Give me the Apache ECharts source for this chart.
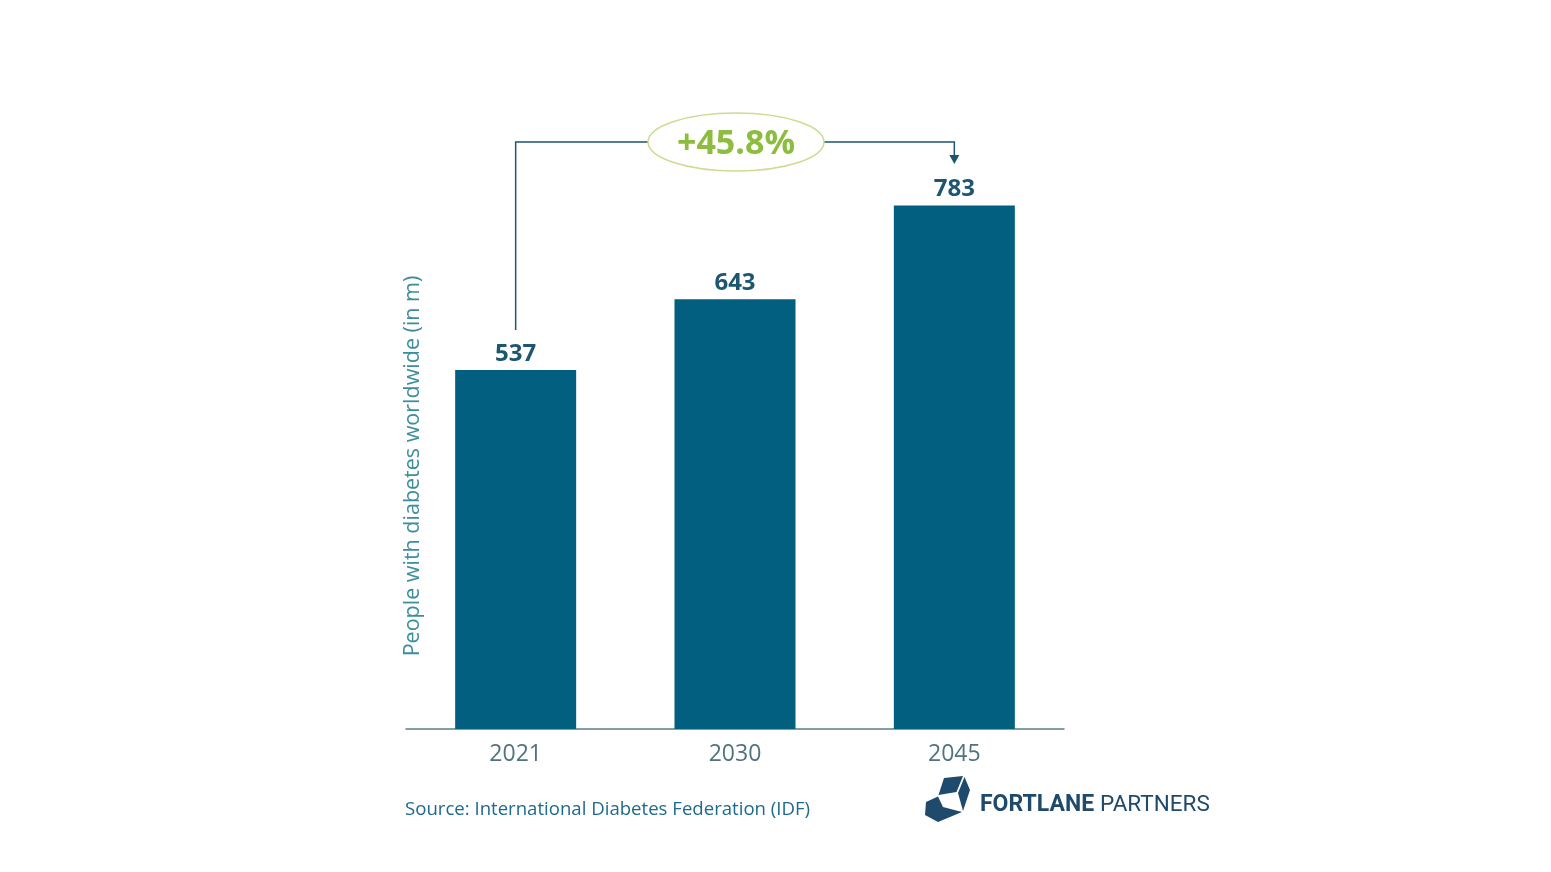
<!DOCTYPE html>
<html>
<head>
<meta charset="utf-8">
<script src="https://cdn.jsdelivr.net/npm/echarts@6/dist/echarts.min.js"></script>
<style>
  html, body { margin: 0; padding: 0; background: #fff; }
  #main { width: 1551px; height: 872px; }
</style>
</head>
<body>
<div id="main"></div>
<script>
// diabetes chart data
var years = ['2021', '2030', '2045'];
var people = [537, 643, 783];
var yTitle = 'People with diabetes worldwide (in m)';
var sourceText = 'Source: International Diabetes Federation (IDF)';

var dom = document.getElementById('main');
var myChart = echarts.init(dom);

var barColor = '#035f80';
var darkTeal = '#1d5670';

var option = {
    backgroundColor: '#ffffff',
    animation: false,
    grid: {
        left: 406,
        right: 1551 - 1064,
        top: 60.5,
        bottom: 143
    },
    xAxis: {
        type: 'category',
        data: years,
        axisLine: { lineStyle: { color: '#5d7f88', width: 1.5 } },
        axisTick: { show: false },
        axisLabel: {
            color: '#4f7480',
            fontFamily: 'Open Sans',
            fontSize: 23,
            margin: 14
        }
    },
    yAxis: {
        type: 'value',
        min: 0,
        max: 1000,
        show: false,
        splitLine: { show: false }
    },
    series: [{
        type: 'bar',
        data: people,
        barWidth: 121,
        itemStyle: { color: barColor },
        label: {
            show: true,
            position: 'top',
            distance: 4,
            color: darkTeal,
            fontFamily: 'Open Sans',
            fontWeight: 'bold',
            fontSize: 24
        }
    }]
};
myChart.setOption(option);

// annotation: growth arrow from first to last bar
var first = myChart.convertToPixel({ seriesIndex: 0 }, [0, people[0]]);
var last = myChart.convertToPixel({ seriesIndex: 0 }, [years.length - 1, people[people.length - 1]]);
var lineY = 142;
var ellX = (first[0] + last[0]) / 2 + 1;
var growth = ((people[people.length - 1] - people[0]) / people[0] * 100).toFixed(1);

var lineStyle = { stroke: darkTeal, lineWidth: 1.5, fill: null };
var logoColor = '#1f4a6b';

myChart.setOption({
    graphic: [
        {
            type: 'polyline',
            shape: { points: [[first[0], first[1] - 40], [first[0], lineY], [last[0], lineY], [last[0], lineY + 15]] },
            style: lineStyle
        },
        {
            type: 'polygon',
            shape: { points: [[last[0] - 5, lineY + 13], [last[0] + 5, lineY + 13], [last[0], lineY + 22]] },
            style: { fill: darkTeal }
        },
        {
            type: 'ellipse',
            shape: { cx: ellX, cy: lineY, rx: 88, ry: 29 },
            style: { fill: '#ffffff', stroke: '#c9dd8e', lineWidth: 1.5 }
        },
        {
            type: 'text',
            x: ellX,
            y: lineY + 2,
            style: {
                text: '+' + growth + '%',
                fill: '#8dbd3e',
                font: 'bold 34px "Open Sans"',
                align: 'center',
                verticalAlign: 'middle'
            }
        },
        {
            type: 'text',
            x: 413,
            y: 466,
            rotation: Math.PI / 2,
            style: {
                text: yTitle,
                fill: '#3d8e9c',
                font: '21.5px "Open Sans"',
                align: 'center',
                verticalAlign: 'middle'
            }
        },
        {
            type: 'text',
            x: 405,
            y: 810,
            style: {
                text: sourceText,
                fill: '#1c6a8c',
                font: '18.6px "Open Sans"',
                align: 'left',
                verticalAlign: 'middle'
            }
        },
        // logo
        {
            type: 'group',
            children: [
                { type: 'polygon', shape: { points: [[944, 778], [963, 776], [956.5, 792], [938.5, 795]] }, style: { fill: logoColor } },
                { type: 'polygon', shape: { points: [[964.5, 777], [970, 790], [963, 811], [958, 793]] }, style: { fill: logoColor } },
                { type: 'polygon', shape: { points: [[926, 802], [938, 796.5], [943, 807], [962, 812], [938, 822], [925, 815]] }, style: { fill: logoColor } },
                {
                    type: 'text', x: 980, y: 805,
                    style: { text: 'FORTLANE', fill: logoColor, font: 'bold 23px Roboto', verticalAlign: 'middle' }
                },
                {
                    type: 'text', x: 1100, y: 805,
                    style: { text: 'PARTNERS', fill: logoColor, font: '22.5px Roboto', verticalAlign: 'middle' }
                }
            ]
        }
    ]
});
</script>
</body>
</html>
